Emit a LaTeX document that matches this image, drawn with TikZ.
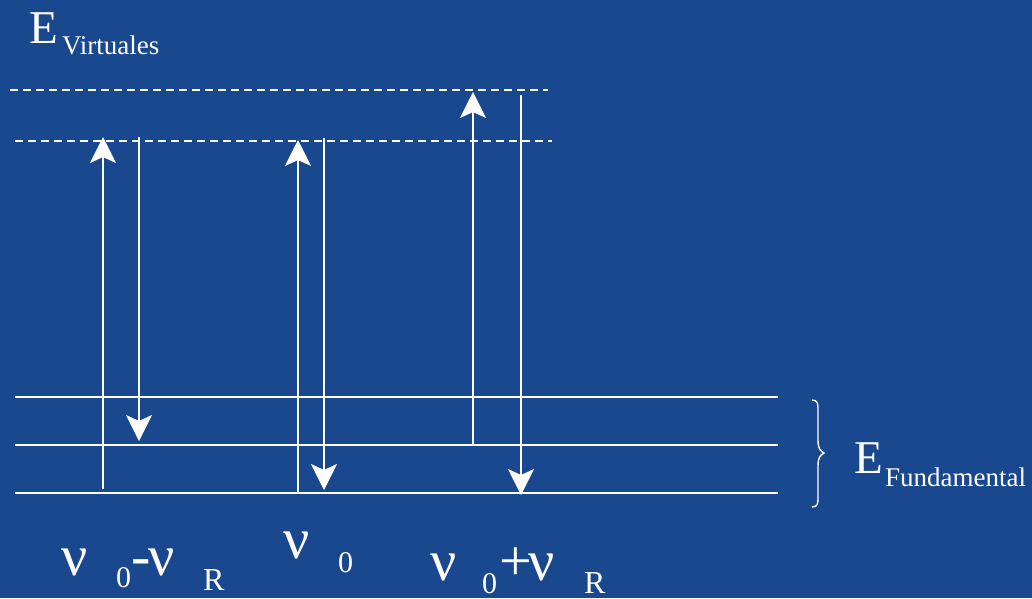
\documentclass[tikz,border=0pt]{standalone}
\usepackage{fontspec}
\setmainfont{Liberation Serif}
\usetikzlibrary{arrows.meta}
\definecolor{bgblue}{RGB}{26,72,142}
\tikzset{
  lbl/.style={anchor=base west, inner sep=0pt, outer sep=0pt, text=white},
  big/.style={lbl, font=\fontsize{47}{47}\selectfont},
  sub/.style={lbl, font=\fontsize{27}{27}\selectfont},
  nu/.style={lbl, font=\fontsize{58}{58}\selectfont},
  zero/.style={lbl, font=\fontsize{30}{30}\selectfont},
  rsub/.style={lbl, font=\fontsize{32}{32}\selectfont},
  level/.style={draw=white, line width=2pt},
  virt/.style={draw=white, line width=2.5pt, dash pattern=on 8pt off 5pt},
  trans/.style={draw=white, line width=2.2pt, -{Stealth[length=26pt, width=26pt, inset=6pt]}},
}
\begin{document}
\begin{tikzpicture}[x=1pt, y=-1pt]
\fill[bgblue] (0,0) rectangle (1032,598);
\useasboundingbox (0,0) rectangle (1032,598);

% levels
\coordinate (v1l) at (10,90);  \coordinate (v1r) at (548,90);
\coordinate (v2l) at (15,141); \coordinate (v2r) at (552,141);
\draw[virt] (v1l) -- (v1r);
\draw[virt] (v2l) -- (v2r);
\coordinate (g1l) at (15,397); \coordinate (g1r) at (778,397);
\coordinate (g2l) at (15,445); \coordinate (g2r) at (778,445);
\coordinate (g3l) at (15,493); \coordinate (g3r) at (778,493);
\draw[level] (g1l) -- (g1r);
\draw[level] (g2l) -- (g2r);
\draw[level] (g3l) -- (g3r);

% transitions
\coordinate (a1s) at (103,489); \coordinate (a1e) at (103,137);
\coordinate (a2s) at (139,137); \coordinate (a2e) at (139,441);
\coordinate (a3s) at (298,493); \coordinate (a3e) at (298,140);
\coordinate (a4s) at (324,138); \coordinate (a4e) at (324,490);
\coordinate (a5s) at (473,445); \coordinate (a5e) at (473,92);
\coordinate (a6s) at (521,95);  \coordinate (a6e) at (521,495);
\draw[trans] (a1s) -- (a1e);
\draw[trans] (a2s) -- (a2e);
\draw[trans] (a3s) -- (a3e);
\draw[trans] (a4s) -- (a4e);
\draw[trans] (a5s) -- (a5e);
\draw[trans] (a6s) -- (a6e);

% brace
\coordinate (bt) at (812,400);
\coordinate (bm) at (824,453);
\coordinate (bb) at (812,507);
\draw[white, line width=1.4pt]
  (bt) .. controls (818,400) and (818,404) .. (818,410)
  -- (818,440) .. controls (818,448) and (820,451) .. (bm)
  .. controls (820,455) and (818,458) .. (818,466)
  -- (818,497) .. controls (818,503) and (818,507) .. (bb);

% labels
\node[big] (ev) at (29.5,43) {E};
\node[sub] (evs) at (62,54) {Virtuales};
\node[big] (ef) at (854,473) {E};
\node[sub] (efs) at (885,486) {Fundamental};

\node[nu]   (n1)  at (61,575)  {ν};
\node[zero] (n1z) at (116,587) {0};
\node[nu]   (n1m) at (131,575) {-};
\node[nu]   (n1b) at (148,575) {ν};
\node[rsub] (n1r) at (203,590) {R};

\node[nu]   (n2)  at (283,558) {ν};
\node[zero] (n2z) at (338,572) {0};

\node[nu]   (n3)  at (430,580) {ν};
\node[zero] (n3z) at (482,593) {0};
\node[nu]   (n3p) at (499,580) {+};
\node[nu]   (n3b) at (528,580) {ν};
\node[rsub] (n3r) at (584,593) {R};
\end{tikzpicture}
\end{document}
